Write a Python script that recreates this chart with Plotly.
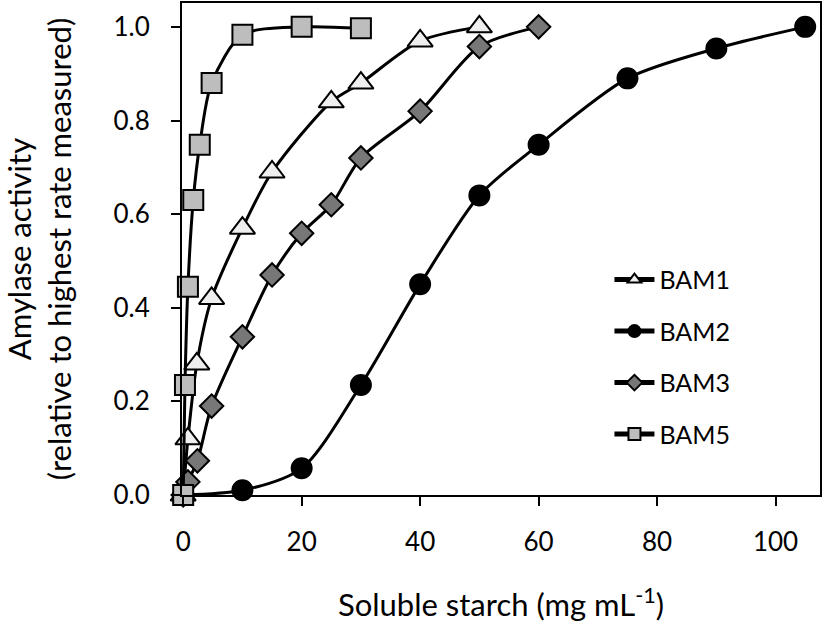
import plotly.graph_objects as go

# ---- data ----
bam1_x = [0, 0.8, 2.3, 4.8, 10, 15, 25, 30, 40, 50]
bam1_y = [0, 0.12, 0.28, 0.42, 0.57, 0.69, 0.84, 0.88, 0.97, 1.0]

bam2_x = [0, 10, 20, 30, 40, 50, 60, 75, 90, 105]
bam2_y = [0, 0.01, 0.057, 0.235, 0.45, 0.64, 0.748, 0.89, 0.954, 1.0]

bam3_x = [0, 0.8, 2.4, 4.8, 10, 15, 20, 25, 30, 40, 50, 60]
bam3_y = [0, 0.028, 0.073, 0.19, 0.338, 0.47, 0.559, 0.62, 0.72, 0.82, 0.958, 1.0]

bam5_x = [0, 0.3, 0.8, 1.7, 2.8, 4.8, 10, 20, 30]
bam5_y = [0, 0.235, 0.445, 0.63, 0.748, 0.88, 0.983, 1.0, 0.997]

series_names = ["BAM1", "BAM2", "BAM3", "BAM5"]
x_ticks = [0, 20, 40, 60, 80, 100]
y_ticks = [0.0, 0.2, 0.4, 0.6, 0.8, 1.0]
y_tick_text = ["0.0", "0.2", "0.4", "0.6", "0.8", "1.0"]

FONT = "Lato, 'Open Sans', sans-serif"

styles = [
    dict(symbol="triangle-up", size=22, color="#efefef"),
    dict(symbol="circle", size=20, color="#000000"),
    dict(symbol="diamond", size=18, color="#777777"),
    dict(symbol="square", size=20, color="#bdbdbd"),
]
data = [(bam1_x, bam1_y), (bam2_x, bam2_y), (bam3_x, bam3_y), (bam5_x, bam5_y)]

fig = go.Figure()
for name, (xs, ys), st in zip(series_names, data, styles):
    fig.add_trace(go.Scatter(
        x=xs, y=ys, name=name, mode="lines+markers",
        legendgroup=name,
        line=dict(color="black", width=3, shape="spline", smoothing=0.8),
        marker=dict(symbol=st["symbol"], size=st["size"], color=st["color"],
                    line=dict(color="black", width=2)),
        cliponaxis=False,
    ))

axis_common = dict(
    showline=True, linecolor="black", linewidth=2, mirror=True,
    ticks="outside", ticklen=9, tickwidth=2, tickcolor="black",
    showgrid=False, zeroline=False, automargin=False,
    tickfont=dict(family=FONT, size=26, color="black"),
)

fig.update_xaxes(
    range=[-0.2, 107.5], tickvals=x_ticks,
    title=dict(text="Soluble starch (mg mL<sup>-1</sup>)",
               font=dict(family=FONT, size=31, color="black"), standoff=43),
    ticklabelstandoff=14,
    **axis_common,
)
fig.update_yaxes(
    range=[0, 1.051], tickvals=y_ticks, ticktext=y_tick_text,
    title=dict(text="Amylase activity<br>(relative to highest rate measured)",
               font=dict(family=FONT, size=31, color="black"), standoff=42),
    ticklabelstandoff=16,
    **axis_common,
)

fig.update_layout(
    width=826, height=623,
    margin=dict(l=182, r=6, t=3, b=128, autoexpand=False),
    paper_bgcolor="white", plot_bgcolor="white",
    font=dict(family=FONT, color="black"),
    showlegend=True,
    legend=dict(
        x=0.67, y=0.484, xanchor="left", yanchor="top",
        font=dict(family=FONT, size=25, color="black"),
        bgcolor="rgba(0,0,0,0)", tracegroupgap=16,
        itemsizing="constant", itemwidth=40,
    ),
)

fig.write_html("out.html", config={"displayModeBar": False},
               post_script="document.body.style.margin='0px';")
